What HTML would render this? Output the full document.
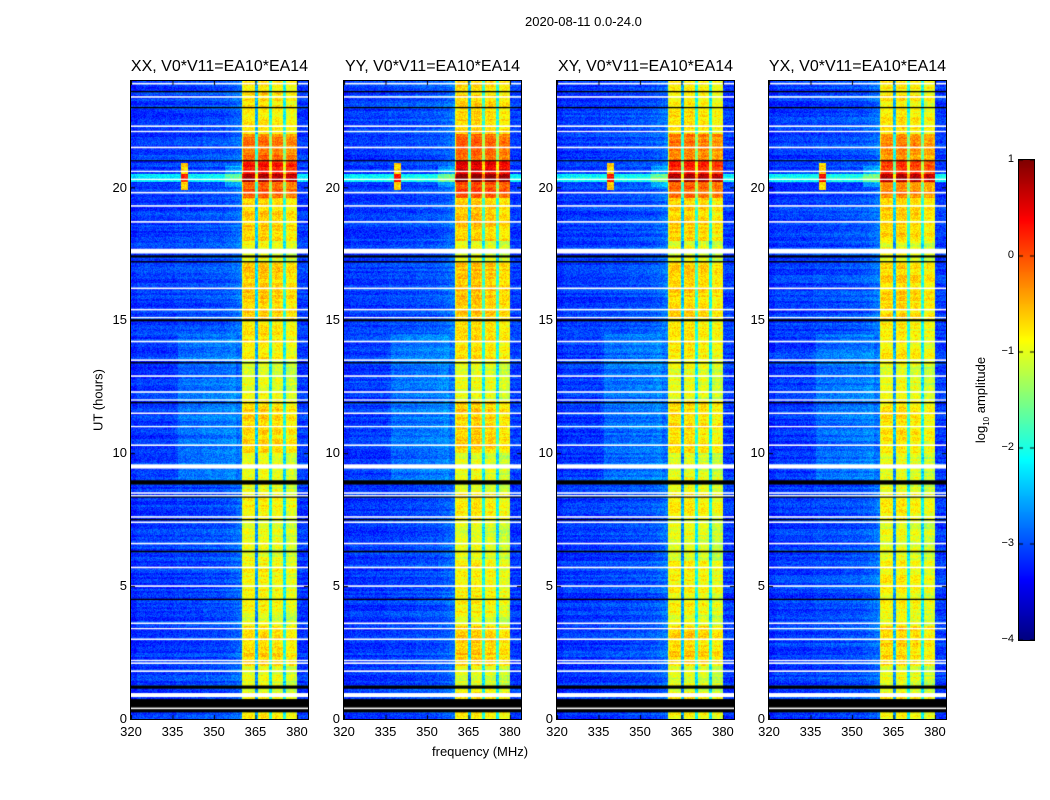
<!DOCTYPE html>
<html><head><meta charset="utf-8">
<style>
body{margin:0;background:#fff;width:1050px;height:800px;overflow:hidden;font-family:"Liberation Sans",sans-serif;}
#root{position:relative;width:1050px;height:800px;}
.t{position:absolute;white-space:nowrap;color:#000;}
canvas{position:absolute;}
</style></head>
<body>
<div id="root">
<div class="t" style="left:525px;top:14px;font-size:13px;">2020-08-11 0.0-24.0</div>
<div class="t" style="left:98px;top:400px;font-size:13px;transform:translate(-50%,-50%) rotate(-90deg);">UT (hours)</div>
<div class="t" style="left:432px;top:744px;font-size:13px;">frequency (MHz)</div>
<div class="t" style="left:982px;top:400px;font-size:13px;transform:translate(-50%,-50%) rotate(-90deg);">log<sub style="font-size:8px">10</sub> amplitude</div>
<canvas id="cb" width="15" height="480" style="left:1019px;top:160px;border:1px solid #000;box-sizing:content-box;margin-left:-1px;margin-top:-1px;"></canvas>
</div>
<script>
// ----- data -----
const panelTitles = ["XX, V0*V11=EA10*EA14","YY, V0*V11=EA10*EA14","XY, V0*V11=EA10*EA14","YX, V0*V11=EA10*EA14"];
const panelLeft = [131,344,557,769];
const bandGain = [1.0, 1.15, 0.95, 0.85];
const xTicks = [320,335,350,365,380];
const yTicks = [0,5,10,15,20];
const cbTicks = [1,0,-1,-2,-3,-4];
// spectrum per 1 MHz channel, 320..383 MHz (log10 amplitude)
const chanLevel = [
-3.2,-3.2,-3.1,-3.1,-3.1,-3.1,-3.1,-3.1,-3.1,-3.1,
-3.1,-3.1,-3.1,-3.1,-3.1,-3.1,-3.05,-3.05,-3.05,-3.05,
-3.05,-3.05,-3.05,-3.05,-3.05,-3.05,-3.0,-3.0,-3.0,-3.0,
-3.0,-3.0,-3.0,-3.0,-2.95,-2.95,-2.9,-2.9,-2.85,-2.8,
-1.05,-1.0,-1.0,-1.0,-1.05,-2.7,-1.05,-0.95,-0.95,-1.05,
-2.2,-1.1,-1.0,-1.0,-1.1,-2.3,-1.2,-1.1,-1.1,-1.2,
-3.1,-3.1,-3.1,-3.1];
// in-band time modulation segments [startHr, endHr, boost]
const bandSegStart = [19.6,20.5,21.0,22.0,18.0,15.0,13.5,10.0,7.5,2.0,0.0,4.0];
const bandSegEnd   = [20.5,21.0,22.0,24.0,19.6,17.2,15.0,12.0,8.5,3.5,1.0,6.0];
const bandSegBoost = [0.9,1.3,0.8,0.25,0.35,0.35,0.2,0.3,0.2,0.35,0.2,0.15];
// off-band enhancements [startHr,endHr,fLo,fHi,boost]
const bgStart = [20.2,19.9,9.0,20.0];
const bgEnd   = [20.5,20.9,14.5,20.8];
const bgFLo   = [320,338,337,354];
const bgFHi   = [384,340.5,358,360.4];
const bgBoost = [1.0,2.4,0.2,0.35];
// flagged (white) rows [hour, thicknessHr]
const whiteHr = [23.9,23.4,22.3,22.1,21.5,20.6,20.3,19.8,19.3,18.7,17.6,16.2,15.4,15.1,14.2,13.5,12.9,12.3,12.0,11.5,11.0,10.3,9.5,8.5,8.4,7.6,7.4,6.6,5.7,5.0,3.6,3.4,3.0,2.2,2.1,1.8,0.9,0.4];
const whiteTh = [0.06,0.06,0.06,0.05,0.06,0.05,0.05,0.06,0.06,0.06,0.18,0.06,0.06,0.05,0.06,0.06,0.06,0.06,0.05,0.06,0.05,0.06,0.16,0.06,0.05,0.06,0.06,0.06,0.06,0.06,0.06,0.05,0.06,0.05,0.06,0.06,0.15,0.06];
// black rows [hour, thicknessHr]
const blackHr = [23.6,23.0,21.0,17.4,17.2,15.0,13.4,11.9,8.9,8.35,7.5,6.3,4.5,1.2,0.5];
const blackTh = [0.05,0.05,0.04,0.08,0.05,0.08,0.05,0.05,0.16,0.05,0.05,0.06,0.05,0.12,0.5];

// ----- helpers -----
function jet(v){
  const f=(x)=>Math.max(0,Math.min(1,x));
  return [f(1.5-Math.abs(4*v-3)),f(1.5-Math.abs(4*v-2)),f(1.5-Math.abs(4*v-1))].map(c=>Math.round(c*255));
}
const VMIN=-4,VMAX=1;
const PW=177, PH=638, TOP=81, F0=320, F1=384, H0=0, H1=24;
function xScale(f){return (f-F0)/(F1-F0)*PW;}
function yScale(h){return PH-(h-H0)/(H1-H0)*PH;}
function hash(a,b){let h=(a*374761393+b*668265263)|0;h=(h^(h>>>13))*1274126177|0;return ((h^(h>>>16))>>>0)/4294967295;}

const root=document.getElementById('root');
function txt(name,s,x,y,size,anchor){
  const d=document.createElement('div');
  d.className='t';
  
  
  d.textContent=s;d.style.fontSize=size+'px';d.style.top=(y-size*0.6)+'px';
  d.style.left=x+'px';
  d.style.transform=anchor==='c'?'translateX(-50%)':(anchor==='r'?'translateX(-100%)':'none');
  root.appendChild(d);return d;
}
function valueAt(f,h,p){
  const ci=Math.min(chanLevel.length-1,Math.max(0,Math.floor(f-F0)));
  let v=chanLevel[ci];
  const inBand=f>=360.4&&f<380;
  if(inBand){
    for(let i=0;i<bandSegStart.length;i++) if(h>=bandSegStart[i]&&h<bandSegEnd[i]) v+=bandSegBoost[i]*bandGain[p];
  }
  for(let i=0;i<bgStart.length;i++) if(h>=bgStart[i]&&h<bgEnd[i]&&f>=bgFLo[i]&&f<bgFHi[i]) v+=bgBoost[i];
  return v;
}

panelLeft.forEach((L,p)=>{
  const c=document.createElement('canvas');
  c.width=PW;c.height=PH;c.style.left=L+'px';c.style.top=TOP+'px';
  c.style.outline='1px solid #000';
  
  
  root.appendChild(c);
  const ctx=c.getContext('2d');const img=ctx.createImageData(PW,PH);
  for(let y=0;y<PH;y++){
    const h=H1-(y+0.5)/PH*(H1-H0);
    const rowJit=(hash(Math.floor(y/2),p+7)-0.5)*0.3;
    for(let x=0;x<PW;x++){
      const f=F0+(x+0.5)/PW*(F1-F0);
      let v=valueAt(f,h,p)+rowJit+(hash(x+p*1000,y)-0.5)*0.45;
      const c3=jet(Math.max(0,Math.min(1,(v-VMIN)/(VMAX-VMIN))));
      const k=(y*PW+x)*4;img.data[k]=c3[0];img.data[k+1]=c3[1];img.data[k+2]=c3[2];img.data[k+3]=255;
    }
  }
  ctx.putImageData(img,0,0);
  ctx.fillStyle='#000';
  blackHr.forEach((hh,i)=>{const y0=yScale(hh+blackTh[i]/2);ctx.fillRect(0,y0,PW,Math.max(1,yScale(hh-blackTh[i]/2)-y0));});
  ctx.fillStyle='#fff';
  whiteHr.forEach((hh,i)=>{const y0=yScale(hh+whiteTh[i]/2);ctx.fillRect(0,y0,PW,Math.max(1,yScale(hh-whiteTh[i]/2)-y0));});
  ctx.fillStyle='#000';
  xTicks.forEach(t=>{const x=xScale(t);ctx.fillRect(x,0,1,4);ctx.fillRect(x,PH-4,1,4);});
  yTicks.forEach(t=>{const y=yScale(t);ctx.fillRect(0,y,4,1);ctx.fillRect(PW-4,y,4,1);});
  txt('panel-title-'+(p+1),panelTitles[p],L+PW/2,68,16,'c');
  xTicks.forEach(t=>txt('x-tick-label',String(t),L+xScale(t),732,13,'c'));
  yTicks.forEach(t=>txt('y-tick-label',String(t),L-4,TOP+yScale(t),13,'r'));
});

// colorbar
const cb=document.getElementById('cb');const cctx=cb.getContext('2d');
for(let y=0;y<480;y++){const c3=jet(1-(y+0.5)/480);cctx.fillStyle=`rgb(${c3[0]},${c3[1]},${c3[2]})`;cctx.fillRect(0,y,15,1);}
cctx.fillStyle='#000';
cbTicks.forEach(t=>{const y=(VMAX-t)/(VMAX-VMIN)*480;cctx.fillRect(0,y-0.5,4,1);cctx.fillRect(11,y-0.5,4,1);
  txt('colorbar-tick-label',(t<0?'\u2212'+(-t):String(t)),1014,160+y,11,'r');});
</script>
</body></html>
